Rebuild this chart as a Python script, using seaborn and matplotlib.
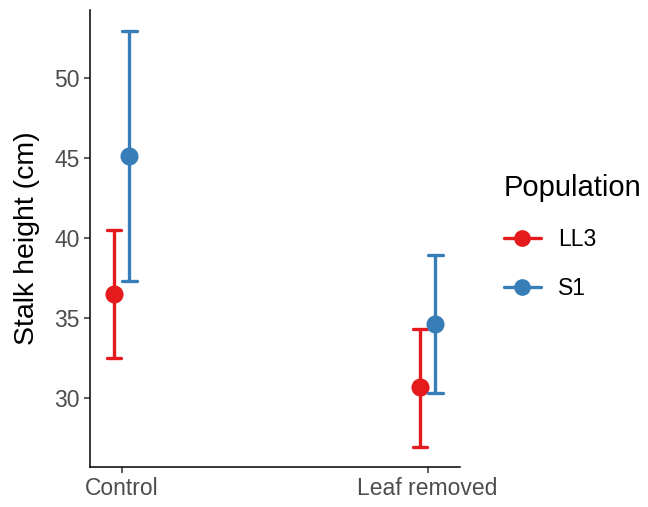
import numpy as np
import pandas as pd
import seaborn as sns
import matplotlib
matplotlib.use("Agg")
import matplotlib.pyplot as plt
from matplotlib.lines import Line2D

# Data
treatments = ["Control", "Leaf removed"]
populations = ["LL3", "S1"]
means = {"LL3": [36.5, 30.65], "S1": [45.1, 34.6]}
lower = {"LL3": [32.5, 26.95], "S1": [37.3, 30.3]}
upper = {"LL3": [40.5, 34.3], "S1": [52.9, 38.9]}
palette = {"LL3": "#E41A1C", "S1": "#377EB8"}

rows = []
for p in populations:
    for i, t in enumerate(treatments):
        for v in (lower[p][i], means[p][i], upper[p][i]):
            rows.append({"Treatment": t, "Population": p, "Height": v})
df = pd.DataFrame(rows)

sns.set_theme(style="ticks")
plt.rcParams["font.family"] = ["Liberation Sans", "DejaVu Sans"]
plt.rcParams["text.color"] = "black"

fig = plt.figure(figsize=(6.48, 5.07), dpi=100)
ax = fig.add_axes([90 / 648, 1 - 467 / 507, 370 / 648, 457 / 507])

sns.pointplot(data=df, x="Treatment", y="Height", hue="Population",
              order=treatments, hue_order=populations, palette=palette,
              estimator="median", errorbar=("pi", 100), dodge=0.05,
              linestyle="none", capsize=0.048, markersize=11,
              err_kws={"linewidth": 2.4}, ax=ax, legend=False)

ax.set_xlim(-0.104, 1.106)
ax.set_ylim(25.67, 54.23)
ax.set_yticks([30, 35, 40, 45, 50])
ax.set_xlabel("")
ax.set_ylabel("Stalk height (cm)", fontsize=20.5, color="black", labelpad=10)
ax.tick_params(axis="both", labelsize=16.5, labelcolor="#4D4D4D",
               color="#333333", length=4, width=1.1)
for s in ["top", "right"]:
    ax.spines[s].set_visible(False)
for s in ["left", "bottom"]:
    ax.spines[s].set_linewidth(1.1)
    ax.spines[s].set_color("black")

handles = [Line2D([], [], color=palette[p], marker="o", markersize=11,
                  linewidth=2.4) for p in populations]
leg = fig.legend(handles, populations, title="Population", loc="center left",
                 bbox_to_anchor=(504 / 648, 1 - 237 / 507), frameon=False,
                 fontsize=16.5, title_fontsize=21, handlelength=1.6,
                 handletextpad=0.75, labelspacing=1.15, borderpad=0,
                 borderaxespad=0)
leg._legend_box.align = "left"
leg.get_title().set_color("black")
for t in leg.get_texts():
    t.set_color("black")

fig.savefig("out.png", dpi=100)
